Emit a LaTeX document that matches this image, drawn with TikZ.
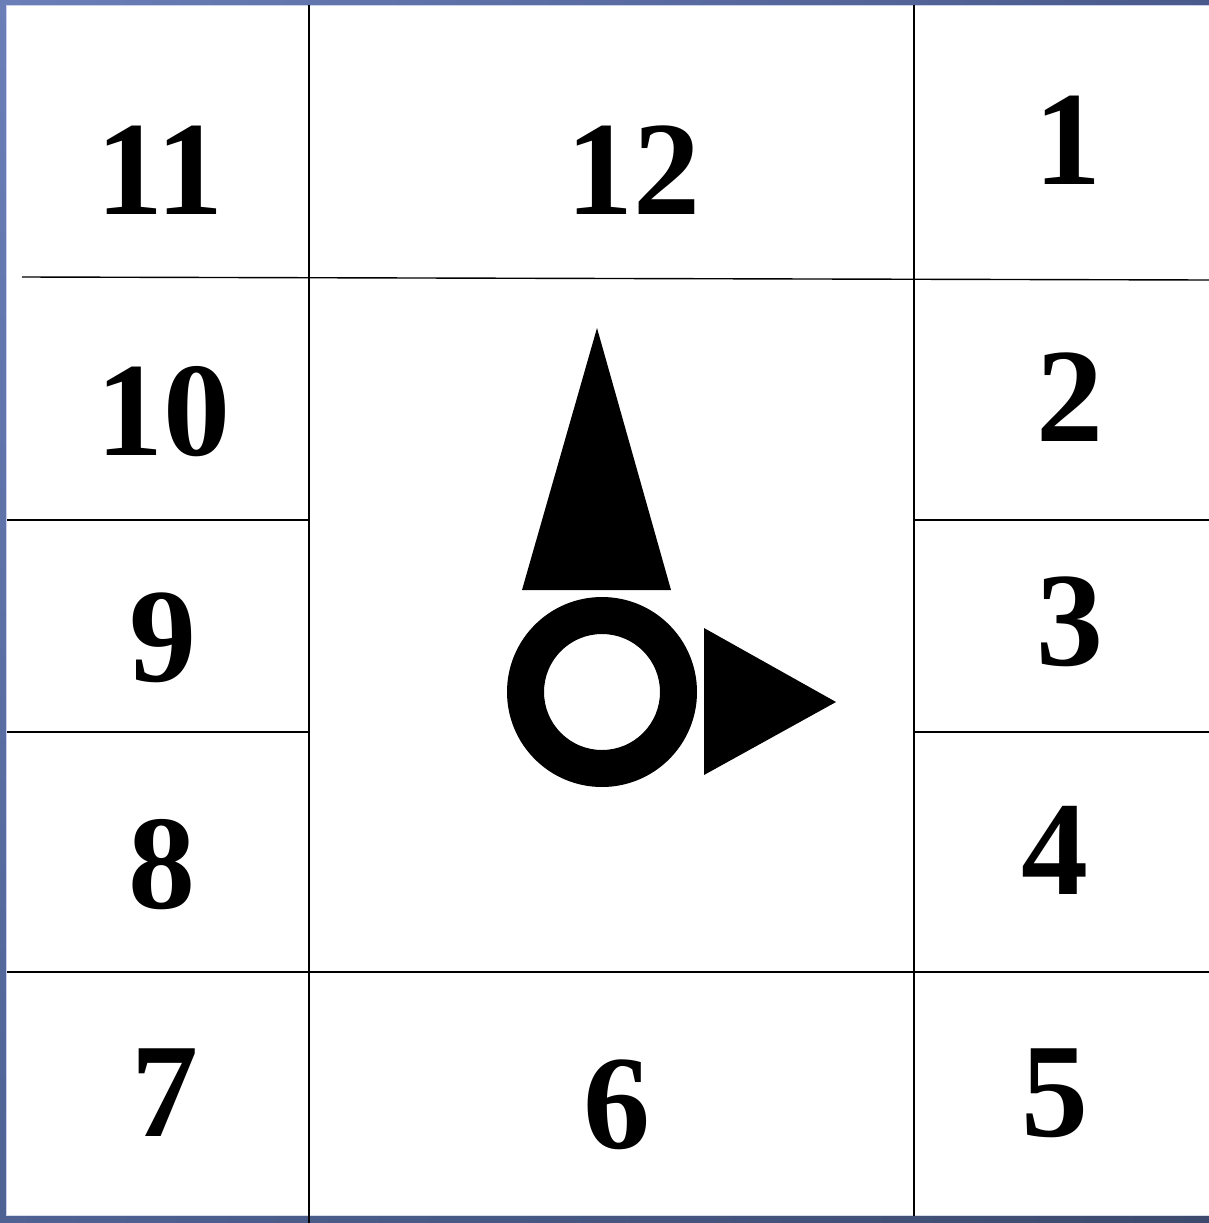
\documentclass[tikz,border=0pt]{standalone}
\usepackage{fontspec}
\setmainfont{Liberation Serif}
\definecolor{bA}{RGB}{106,127,184}
\definecolor{bB}{RGB}{138,160,224}
\definecolor{bC}{RGB}{79,98,148}
\definecolor{bD}{RGB}{74,90,140}
\definecolor{bE}{RGB}{61,74,110}
\definecolor{bL}{RGB}{200,210,240}
\definecolor{bM}{RGB}{215,220,235}
\begin{document}
\begin{tikzpicture}[x=1pt,y=-1pt,
  num/.style={font=\bfseries\fontsize{134}{134}\selectfont, inner sep=0pt, anchor=center},
  grid/.style={line width=1.4pt, black}]
\useasboundingbox (0,0) rectangle (1209,1223);
\fill[white] (0,0) rectangle (1209,1223);
% border bands
\shade[top color=bA, middle color=bB, bottom color=bC] (0,0) rectangle (6,1223);
\shade[left color=bA, right color=bD] (0,0) rectangle (1209,5);
\shade[left color=bC, right color=bE] (0,1216) rectangle (1209,1223);
\draw[line width=0.8pt, bL] (6.4,1215.6) -- (6.4,5.4) -- (1209,5.4);
\draw[line width=0.8pt, bM] (6.4,1215.6) -- (1209,1215.6);
% grid
\draw[grid] (309,5) -- (309,1223);
\draw[grid] (914,5) -- (914,1216);
\draw[grid] (22,277) -- (1209,280);
\draw[grid] (7,520) -- (309,520);
\draw[grid] (914,520) -- (1209,520);
\draw[grid] (7,732) -- (309,732);
\draw[grid] (914,732) -- (1209,732);
\draw[grid] (7,972) -- (1209,972);
% numbers
\node[num] (n11) at (160,170) {11};
\node[num] (n12) at (633,170) {12};
\node[num] (n1) at (1068,140) {1};
\node[num] (n10) at (163,412) {10};
\node[num] (n2) at (1070,397) {2};
\node[num] (n9) at (163,638) {9};
\node[num] (n3) at (1070,622) {3};
\node[num] (n8) at (162,865) {8};
\node[num] (n4) at (1055,850) {4};
\node[num] (n7) at (165,1093) {7};
\node[num] (n6) at (617,1105) {6};
\node[num] (n5) at (1055,1093) {5};
% symbols
\fill (597,328) -- (671,590) -- (522,590) -- cycle;
\fill[even odd rule] (602,692) circle (95) (602,692) circle (58);
\fill (704,628) -- (836,702) -- (704,775) -- cycle;
\end{tikzpicture}
\end{document}
